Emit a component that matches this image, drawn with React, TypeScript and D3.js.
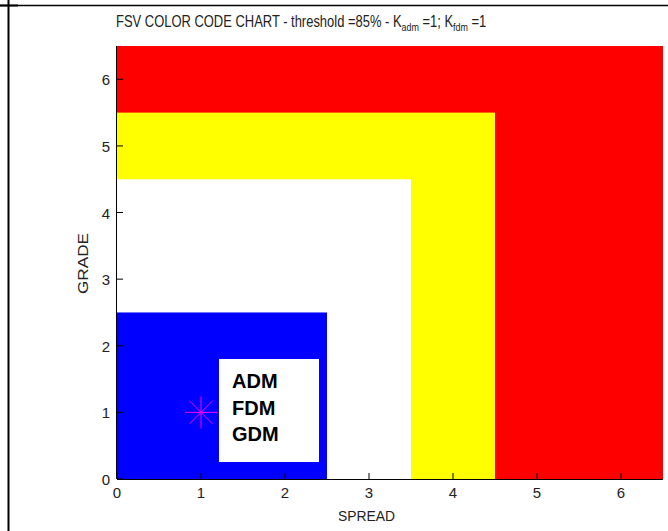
import React from "react";
import * as d3 from "d3";

const zones = [
  { name: "red", color: "#ff0000", x1: 6.5, y1: 6.5 },
  { name: "yellow", color: "#ffff00", x1: 4.5, y1: 5.5 },
  { name: "white", color: "#ffffff", x1: 3.5, y1: 4.5 },
  { name: "blue", color: "#0000ff", x1: 2.5, y1: 2.5 },
];
const xTicks = [0, 1, 2, 3, 4, 5, 6];
const yTicks = [0, 1, 2, 3, 4, 5, 6];
const pointSpread = [1];
const pointGrade = [1];
const legendLabels = ["ADM", "FDM", "GDM"];

export default function App() {
  const W = 668, H = 531;
  const x = d3.scaleLinear().domain([0, 6.5]).range([117, 663]);
  const y = d3.scaleLinear().domain([0, 6.5]).range([479, 46]);
  const font = "Arial, 'Liberation Sans', sans-serif";
  const r = 16;
  const rd = r * 0.72;
  return (
    <svg width={W} height={H} style={{ position: "absolute", left: 0, top: 0 }}>
      <rect x={0} y={0} width={W} height={H} fill="#fff" />
      <line x1={0} y1={5.5} x2={W} y2={5.5} stroke="#000" strokeWidth={1.5} />
      <line x1={0} y1={5.5} x2={18} y2={5.5} stroke="#000" strokeWidth={2} />
      <line x1={8.5} y1={0} x2={8.5} y2={H} stroke="#000" strokeWidth={2} />
      {zones.map((z) => (
        <rect key={z.name} x={x(0)} y={y(z.y1)} width={x(z.x1) - x(0)} height={y(0) - y(z.y1)} fill={z.color} />
      ))}
      <line x1={x(0)} y1={y(0) + 0.5} x2={x(6.5)} y2={y(0) + 0.5} stroke="#000" strokeWidth={1} />
      <line x1={x(0) - 0.5} y1={y(0)} x2={x(0) - 0.5} y2={y(6.5)} stroke="#000" strokeWidth={1} />
      {xTicks.map((t) => (
        <g key={"x" + t}>
          <line x1={x(t)} x2={x(t)} y1={y(0)} y2={y(0) - 6} stroke="#000" />
          <text x={x(t)} y={y(0) + 19} fontSize={15} fontFamily={font} textAnchor="middle" fill="#222">{t}</text>
        </g>
      ))}
      {yTicks.map((t) => (
        <g key={"y" + t}>
          <line x1={x(0)} x2={x(0) + 6} y1={y(t)} y2={y(t)} stroke="#000" />
          <text x={x(0) - 7} y={y(t) + 6} fontSize={15} fontFamily={font} textAnchor="end" fill="#222">{t}</text>
        </g>
      ))}
      <text x={338} y={521} fontSize={15} fontFamily={font} fill="#222" textLength={57} lengthAdjust="spacingAndGlyphs">SPREAD</text>
      <text transform={`translate(88,294) rotate(-90)`} fontSize={15} fontFamily={font} fill="#222" textLength={61} lengthAdjust="spacingAndGlyphs">GRADE</text>
      <g transform="translate(116,27) scale(0.81,1)">
        <text x={0} y={0} fontSize={16} fontFamily={font} fill="#222">
          FSV COLOR CODE CHART - threshold =85% - K
          <tspan fontSize={11} dy={4}>adm</tspan>
          <tspan dy={-4}> =1; K</tspan>
          <tspan fontSize={11} dy={4}>fdm</tspan>
          <tspan dy={-4}> =1</tspan>
        </text>
      </g>
      {pointSpread.map((s, i) => {
        const cx = x(s), cy = y(pointGrade[i]);
        return (
          <g key={"p" + i} stroke="#ff00ff" strokeWidth={1}>
            <line x1={cx - r} x2={cx + r} y1={cy} y2={cy} />
            <line x1={cx} x2={cx} y1={cy - r} y2={cy + r} />
            <line x1={cx - rd} x2={cx + rd} y1={cy - rd} y2={cy + rd} />
            <line x1={cx - rd} x2={cx + rd} y1={cy + rd} y2={cy - rd} />
          </g>
        );
      })}
      <rect x={219} y={359} width={100} height={103} fill="#fff" />
      {legendLabels.map((l, i) => (
        <text key={l} x={232} y={388 + i * 26.5} fontSize={20} fontWeight="bold" fontFamily={font} fill="#000">{l}</text>
      ))}
    </svg>
  );
}
